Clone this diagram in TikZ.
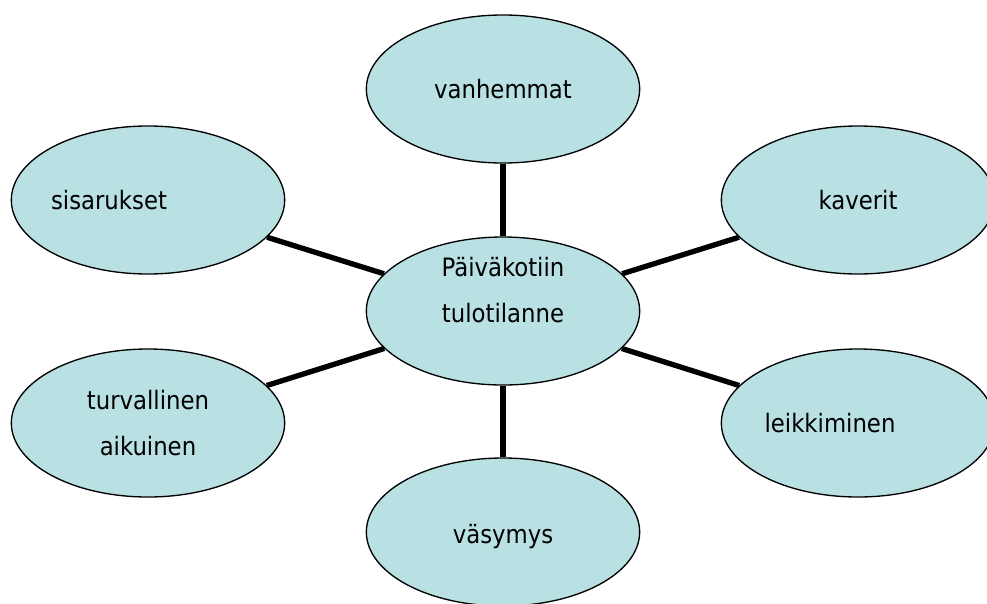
\documentclass[tikz,border=0pt]{standalone}
\usepackage{fontspec}
\setmainfont{DejaVu Sans Condensed}
\usetikzlibrary{shapes.geometric}
\definecolor{bubblefill}{RGB}{185,224,227}
\tikzset{
    bubbletext/.style={font=\fontsize{19}{34.5}\selectfont, align=center, inner sep=0pt},
    bubble/.style={ellipse, draw, line width=1pt, fill=bubblefill,
        minimum width=205pt, minimum height=111pt, bubbletext},
    spoke/.style={line width=4pt}
}
\begin{document}
\begin{tikzpicture}[x=0.75pt, y=-0.75pt]
    \useasboundingbox (0,0) rectangle (987,603);
    \node[bubble, label={[bubbletext, yshift=15.75pt]center:Päiväkotiin\\tulotilanne}] (tulo) at (503,311) {};
    \node[bubble] (vanh) at (503,89) {vanhemmat};
    \node[bubble, label={[bubbletext, xshift=-29.25pt]center:sisarukset}] (sisar) at (148,200) {};
    \node[bubble] (kaver) at (858,200) {kaverit};
    \node[bubble] (turva) at (148,423) {turvallinen\\aikuinen};
    \node[bubble, label={[bubbletext, xshift=-21pt]center:leikkiminen}] (leikki) at (858,423) {};
    \node[bubble, label={[bubbletext, yshift=-3.75pt]center:väsymys}] (vasy) at (503,532) {};
    % spokes
    \foreach \n in {vanh, sisar, kaver, turva, leikki, vasy}
        \draw[spoke] (tulo) -- (\n);
\end{tikzpicture}
\end{document}
